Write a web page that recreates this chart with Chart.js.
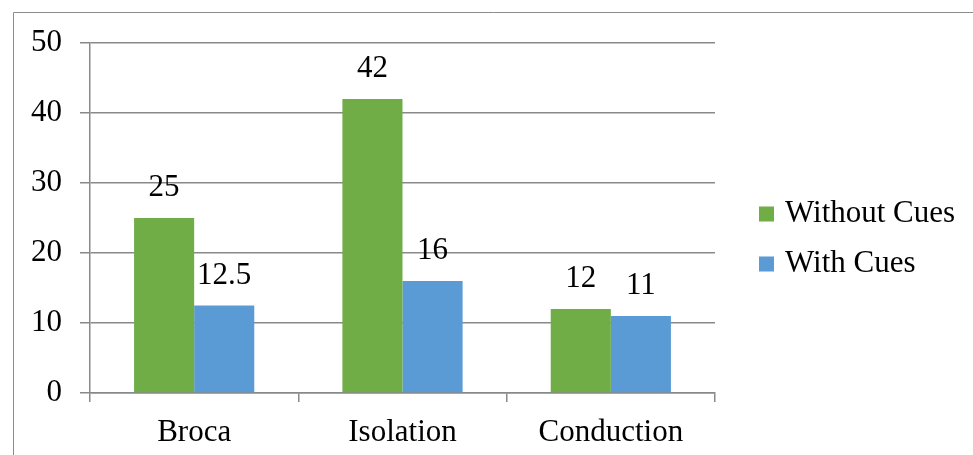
<!DOCTYPE html>
<html>
<head>
<meta charset="utf-8">
<script src="https://cdn.jsdelivr.net/npm/chart.js@4/dist/chart.umd.min.js"></script>
<style>
  html, body { margin: 0; padding: 0; background: #ffffff; }
  #wrap { position: relative; width: 973px; height: 455px; }
</style>
</head>
<body>
<div id="wrap"><canvas id="chart" width="973" height="455"></canvas></div>
<script>
// Aphasia types and scores with / without cues
const categories = ['Broca', 'Isolation', 'Conduction'];
const withoutCues = [25, 42, 12];
const withCues = [12.5, 16, 11];
const seriesNames = ['Without Cues', 'With Cues'];
const yTicks = [0, 10, 20, 30, 40, 50];

const GREEN = '#70AD47';
const BLUE = '#5B9BD5';
const GRID = '#898989';
const FONT = "'Liberation Serif', 'Times New Roman', serif";
const FONT_SIZE = 31;

// Thin frame along the top and left edges of the canvas
const framePlugin = {
  id: 'frame',
  beforeDraw(chart) {
    const ctx = chart.ctx;
    ctx.save();
    ctx.strokeStyle = '#8c8c8c';
    ctx.lineWidth = 1;
    ctx.beginPath();
    ctx.moveTo(13.5, 455);
    ctx.lineTo(13.5, 12.5);
    ctx.lineTo(973, 12.5);
    ctx.stroke();
    ctx.restore();
  }
};

// Value written above each bar
const valueLabelPlugin = {
  id: 'valueLabels',
  afterDatasetsDraw(chart) {
    const ctx = chart.ctx;
    ctx.save();
    ctx.font = FONT_SIZE + 'px ' + FONT;
    ctx.fillStyle = '#000000';
    ctx.textAlign = 'center';
    ctx.textBaseline = 'middle';
    chart.data.datasets.forEach((ds, di) => {
      const meta = chart.getDatasetMeta(di);
      meta.data.forEach((bar, i) => {
        ctx.fillText(String(ds.data[i]), bar.x, bar.y - 30);
      });
    });
    ctx.restore();
  }
};

// Legend on the right, one row per series
const sideLegendPlugin = {
  id: 'sideLegend',
  afterDraw(chart) {
    const ctx = chart.ctx;
    const x0 = 759, yCenter = 239, rowGap = 50, box = 15;
    ctx.save();
    ctx.font = FONT_SIZE + 'px ' + FONT;
    ctx.textAlign = 'left';
    ctx.textBaseline = 'middle';
    const n = chart.data.datasets.length;
    chart.data.datasets.forEach((ds, di) => {
      const y = yCenter + (di - (n - 1) / 2) * rowGap;
      ctx.fillStyle = ds.backgroundColor;
      ctx.fillRect(x0, y - box / 2, box, box);
      ctx.fillStyle = '#000000';
      ctx.fillText(ds.label, x0 + box + 11, y);
    });
    ctx.restore();
  }
};

new Chart(document.getElementById('chart'), {
  type: 'bar',
  data: {
    labels: categories,
    datasets: [
      { label: seriesNames[0], data: withoutCues, backgroundColor: GREEN, borderWidth: 0 },
      { label: seriesNames[1], data: withCues, backgroundColor: BLUE, borderWidth: 0 }
    ]
  },
  options: {
    responsive: false,
    animation: false,
    devicePixelRatio: 1,
    categoryPercentage: 0.577,
    barPercentage: 1.0,
    layout: { padding: { top: 43, right: 258, bottom: 0, left: 0 } },
    plugins: {
      legend: { display: false },
      tooltip: { enabled: false }
    },
    scales: {
      x: {
        grid: {
          offset: true,
          drawOnChartArea: false,
          drawTicks: true,
          tickLength: 9,
          color: GRID,
          lineWidth: 1.5
        },
        border: { display: true, color: GRID, width: 1.5 },
        ticks: {
          color: '#000000',
          font: { family: FONT, size: FONT_SIZE },
          padding: 12,
          maxRotation: 0
        },
        afterFit(scale) { scale.height = 62; }
      },
      y: {
        min: 0,
        max: 50,
        afterBuildTicks(scale) { scale.ticks = yTicks.map(v => ({ value: v })); },
        grid: {
          color: GRID,
          lineWidth: 1.5,
          drawTicks: true,
          tickLength: 10
        },
        border: { display: true, color: GRID, width: 1.5 },
        ticks: {
          color: '#000000',
          font: { family: FONT, size: FONT_SIZE },
          padding: 18
        },
        afterFit(scale) { scale.width = 90; }
      }
    }
  },
  plugins: [framePlugin, valueLabelPlugin, sideLegendPlugin]
});
</script>
</body>
</html>
